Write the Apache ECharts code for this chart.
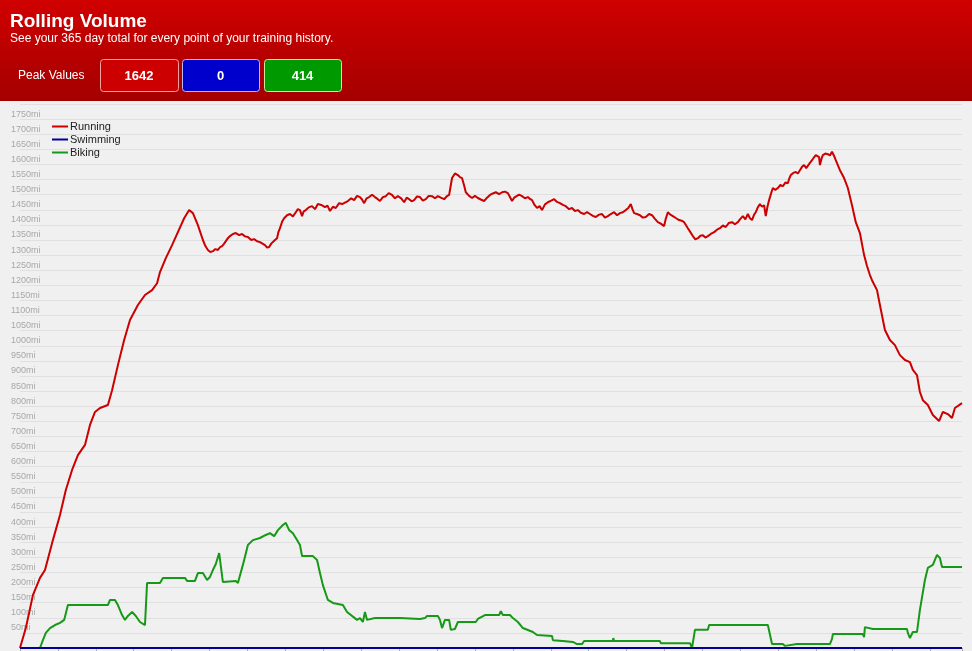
<!DOCTYPE html>
<html>
<head>
<meta charset="utf-8">
<script src="https://cdn.jsdelivr.net/npm/echarts@6/dist/echarts.min.js"></script>
<style>
html,body{margin:0;padding:0;background:#f0f0f0;}
#chart{width:972px;height:651px;}
</style>
</head>
<body>
<div id="chart"></div>
<script>
// ---- Data (days since start of history, 365-day rolling miles) ----
const seriesNames = ["Running", "Swimming", "Biking"];
const peakValues = [1642, 0, 414];
const titleText = "Rolling Volume";
const subtitleText = "See your 365 day total for every point of your training history.";
const peakLabel = "Peak Values";

const runDays = [0,14,31,48,60,79,96,110,125,139,156,168,180,192,211,221,235,250,264,283,300,317,329,336,350,365,379,394,406,415,427,
 439,445,451,457,463,469,475,480,485,490,494,499,504,511,518,526,533,540,547,555,562,569,576,582,588,593,598,603,607,612,617,620,624,629,
 634,641,648,655,662,667,672,677,681,686,693,701,708,715,723,732,738,744,751,758,766,773,780,787,795,802,809,816,821,826,832,838,845,852,858,864,871,878,885,893,900,907,915,922,928,934,940,946,953,960,967,974,981,989,996,1003,1010,1018,1024,1030,
 1037,1044,1051,1056,1061,1066,1070,1078,1085,1092,1099,1106,1114,1121,1128,1135,1142,1150,1157,1164,1171,1176,1181,1186,1190,1198,1205,1212,1219,1224,1229,1235,1241,1247,1253,1260,1267,1275,1282,1289,1296,1303,1310,1318,1325,1332,1339,1346,1354,1361,1368,1375,1382,1390,1397,1404,1411,1418,1426,1433,1440,1447,1454,1460,1466,1470,1474,1481,1488,1495,1502,1510,1517,1524,1531,1538,1546,1550,1555,1561,1567,1575,1582,1588,1594,1599,1603,1609,1615,1621,1627,1633,1639,1645,1651,1658,1666,1673,1680,1687,1694,1701,1709,1716,1723,1729,1735,1741,1747,1752,1757,1762,1766,1771,1776,1781,1786,1790,1794,1798,1803,1807,1813,1819,1825,1831,1837,1843,1846,1850,1856,1862,1867,1872,1877,1882,1887,1891,1896,1901,1905,1910,1914,1918,1920,1924,1927,1933,1939,1944,1949,1954,1958,
 1968,1978,1987,1997,2006,2016,2026,2033,2040,2045,2057,2064,2076,2088,2100,2112,2124,2136,2143,2153,2160,2167,2179,2191,2206,2215,2227,2237,2244,2261];
const runMiles = [0,66,175,232,258,357,440,523,589,638,672,738,781,794,804,853,936,1019,1085,1135,1168,1184,1207,1244,1290,1333,1376,1422,1449,1439,1399,
 1350,1330,1317,1310,1313,1320,1317,1326,1330,1338,1343,1356,1363,1370,1373,1366,1370,1362,1360,1350,1353,1346,1343,1338,1333,1325,1327,1338,1336,1350,1356,1375,1389,1410,
 1422,1432,1436,1428,1442,1452,1449,1429,1445,1449,1458,1462,1452,1469,1466,1459,1464,1446,1460,1456,1472,1469,1474,1479,1488,1482,1496,1492,1484,1472,1488,1492,1500,1492,1486,1479,1492,1495,1505,1499,1488,1495,1488,1475,1490,1485,1478,1482,1494,1492,1480,1485,1496,1495,1488,1495,1490,1485,1494,1499,
 1555,1570,1565,1558,1555,1530,1508,1496,1489,1496,1489,1484,1479,1490,1499,1504,1508,1502,1508,1510,1505,1492,1479,1490,1495,1500,1495,1488,1492,1486,1482,1466,1456,1462,1449,1468,1475,1480,1485,1476,1472,1466,1462,1452,1456,1446,1449,1440,1436,1442,1436,1430,1426,1434,1436,1424,1429,1436,1442,1432,1439,1442,1449,1456,1469,1452,1439,1436,1432,1424,1426,1436,1432,1420,1409,1404,1396,1420,1442,1434,1429,1422,1416,1414,1409,1398,1389,1376,1363,1352,1356,1364,1366,1358,1363,1370,1376,1384,1389,1398,1393,1406,1409,1402,1409,1420,1429,1418,1436,1422,1416,1434,1442,1458,1469,1460,1465,1429,1460,1482,1505,1522,1516,1522,1532,1528,1540,1538,1552,1565,1572,1575,1570,1581,1592,1598,1588,1591,1605,1614,1622,1631,1628,1624,1598,1620,1631,1636,1634,1630,1642,1628,1614,
 1581,1555,1522,1465,1409,1373,1300,1264,1234,1217,1184,1135,1052,1019,1002,969,953,946,920,903,847,820,804,771,751,781,774,761,794,810];

const bikeDays = [0,48,55,62,72,84,96,106,115,211,216,228,235,245,252,259,269,278,288,300,305,336,343,396,401,420,427,439,449,456,463,470,478,482,487,518,523,535,547,559,576,590,600,610,619,631,638,646,655,665,672,677,703,713,720,727,739,751,775,785,809,816,823,828,833,852,912,960,972,977,1003,1008,1013,1020,1030,1034,1044,1051,1094,1099,1116,1150,1154,1159,1176,1183,1195,1207,1231,1241,1277,1279,1303,1327,1337,1349,1354,1423,1424,1426,1536,1538,1608,1613,1620,1651,1654,1795,1805,1831,1836,1865,1944,1949,1951,2023,2026,2028,2047,2129,2131,2136,2143,2153,2160,2172,2179,2191,2201,2208,2213,2261];
const bikeMiles = [0,0,26,50,66,76,83,93,142,142,159,159,142,109,93,106,119,106,86,76,215,215,232,232,222,222,248,248,225,235,258,278,314,318,218,222,215,275,341,357,364,374,380,370,390,407,414,390,380,357,341,304,304,291,248,208,159,149,142,119,93,99,86,119,93,99,99,96,99,106,106,93,66,93,93,60,63,86,86,96,109,109,122,109,109,99,86,66,53,43,40,26,23,20,13,13,23,23,33,23,23,16,16,0,60,60,76,76,13,13,7,13,13,30,46,46,36,69,63,63,50,33,53,53,126,225,265,275,308,298,268,268];

const swimDays = [0, 2261];
const swimMiles = [0, 0];

const zip = (xs, ys) => xs.map((x, i) => [x, ys[i]]);

const chart = echarts.init(document.getElementById('chart'), null, {renderer: 'canvas'});
const FONT = '"Liberation Sans", Arial, sans-serif';
const NUMFONT = 'bold 13px "Liberation Sans", Arial, sans-serif';

const option = {
  backgroundColor: '#f0f0f0',
  animation: false,
  textStyle: {fontFamily: FONT},
  graphic: [
    {type: 'rect', left: 0, top: 0, z: 0, shape: {width: 972, height: 101},
     style: {fill: new echarts.graphic.LinearGradient(0, 0, 0, 1, [
       {offset: 0, color: '#d00000'}, {offset: 1, color: '#a40000'}])}},
    {type: 'text', left: 10, top: 12, z: 5,
     style: {text: titleText, fill: '#ffffff', font: 'bold 19px ' + FONT}},
    {type: 'text', left: 10, top: 33, z: 5,
     style: {text: subtitleText, fill: '#ffffff', font: '12px ' + FONT}},
    {type: 'text', left: 18, top: 70, z: 5,
     style: {text: peakLabel, fill: '#ffffff', font: '12px ' + FONT}},
    {type: 'rect', left: 100, top: 59, z: 5, shape: {width: 78, height: 32, r: 3},
     style: {fill: '#cc0000', stroke: '#f4a0a0', lineWidth: 1}},
    {type: 'rect', left: 182, top: 59, z: 5, shape: {width: 77, height: 32, r: 3},
     style: {fill: '#0000cc', stroke: '#b8b8f0', lineWidth: 1}},
    {type: 'rect', left: 264, top: 59, z: 5, shape: {width: 77, height: 32, r: 3},
     style: {fill: '#009900', stroke: '#c8e8a0', lineWidth: 1}},
    {type: 'text', x: 139, y: 76, z: 6,
     style: {text: String(peakValues[0]), fill: '#ffffff', font: NUMFONT, align: 'center', verticalAlign: 'middle'}},
    {type: 'text', x: 220.5, y: 76, z: 6,
     style: {text: String(peakValues[1]), fill: '#ffffff', font: NUMFONT, align: 'center', verticalAlign: 'middle'}},
    {type: 'text', x: 302.5, y: 76, z: 6,
     style: {text: String(peakValues[2]), fill: '#ffffff', font: NUMFONT, align: 'center', verticalAlign: 'middle'}}
  ],
  legend: {
    orient: 'vertical', left: 47, top: 116,
    data: seriesNames,
    icon: 'rect', itemWidth: 16, itemHeight: 2, itemGap: 2,
    textStyle: {fontSize: 11, color: '#222', lineHeight: 11, fontFamily: FONT, padding: [0, 0, 0, -3]}
  },
  grid: {left: 20, right: 10, top: 104, bottom: 3, containLabel: false},
  xAxis: {
    type: 'value', min: 0, max: 2261, interval: 91,
    axisLine: {show: false},
    axisTick: {show: true, length: 3, lineStyle: {color: '#b0b0b0'}},
    axisLabel: {show: false},
    splitLine: {show: false}
  },
  yAxis: {
    type: 'value', min: 0, max: 1800, interval: 50,
    axisLine: {show: false}, axisTick: {show: false},
    axisLabel: {
      formatter: (v) => v + 'mi', align: 'left', margin: 9, verticalAlign: 'bottom',
      color: '#a8a8a8', fontSize: 9, fontFamily: FONT, lineHeight: 10,
      showMinLabel: false, showMaxLabel: false
    },
    splitLine: {lineStyle: {color: '#e0e0e0', width: 1}}
  },
  series: [
    {name: 'Running', type: 'line', data: zip(runDays, runMiles), showSymbol: false,
     lineStyle: {color: '#cc0000', width: 2}, itemStyle: {color: '#cc0000'}, z: 3},
    {name: 'Biking', type: 'line', data: zip(bikeDays, bikeMiles), showSymbol: false,
     lineStyle: {color: '#169916', width: 2}, itemStyle: {color: '#169916'}, z: 2},
    {name: 'Swimming', type: 'line', data: zip(swimDays, swimMiles), showSymbol: false,
     lineStyle: {color: '#000099', width: 2}, itemStyle: {color: '#000099'}, z: 4}
  ]
};
chart.setOption(option);
</script>
</body>
</html>
